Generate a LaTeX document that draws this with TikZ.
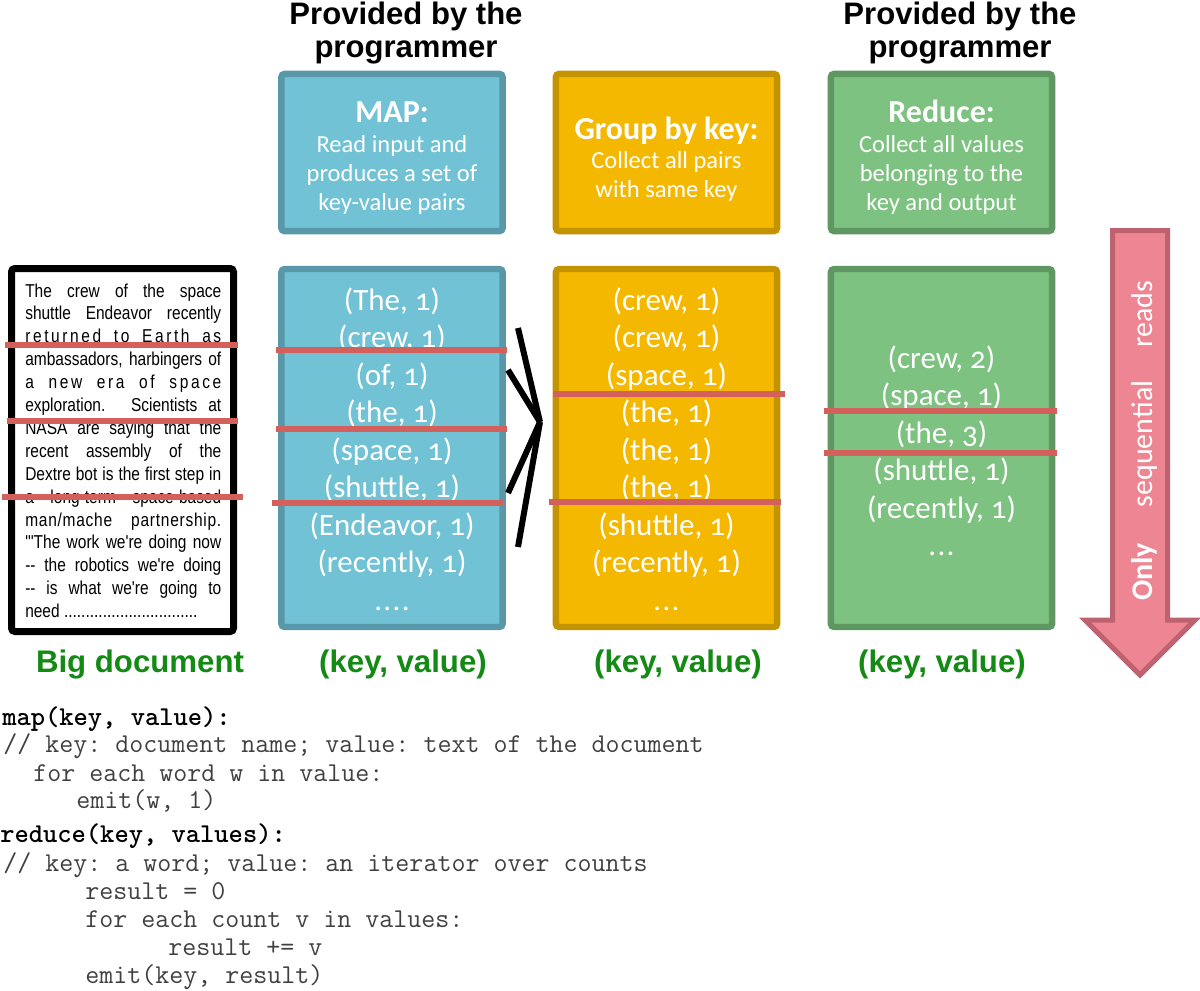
\documentclass[tikz,border=0pt]{standalone}
\usepackage{fontspec}
\newfontfamily\calfont{Carlito}[Numbers=OldStyle]
\newfontfamily\headfont{Liberation Sans}
\newfontfamily\narrowfont{Liberation Sans}[FakeStretch=0.83]
\definecolor{mapfill}{HTML}{72C2D5}
\definecolor{mapedge}{HTML}{5898A8}
\definecolor{grpfill}{HTML}{F4B800}
\definecolor{grpedge}{HTML}{C39300}
\definecolor{redfill}{HTML}{7DC280}
\definecolor{rededge}{HTML}{5E9762}
\definecolor{arrfill}{HTML}{EE8593}
\definecolor{arredge}{HTML}{BF6270}
\definecolor{cutline}{HTML}{D3605A}
\definecolor{lblgreen}{HTML}{138A13}
\definecolor{codegray}{HTML}{404040}
\begin{document}
\begin{tikzpicture}[x=0.75pt,y=-0.75pt,
  box/.style={line width=4.8pt, rounded corners=2.5pt, inner sep=0pt, minimum width=166pt},
  hdrbox/.style={box, minimum height=118pt},
  databox/.style={box, minimum height=268.5pt},
  mapst/.style={fill=mapfill, draw=mapedge},
  grpst/.style={fill=grpfill, draw=grpedge},
  redst/.style={fill=redfill, draw=rededge},
  pair/.style={font=\calfont\fontsize{23.25pt}{28pt}\selectfont, text=white, inner sep=0pt, anchor=base},
  htitle/.style={font=\calfont\bfseries\fontsize{24pt}{28pt}\selectfont, text=white, inner sep=0pt, anchor=base},
  hbody/.style={font=\calfont\fontsize{18.4pt}{22pt}\selectfont, text=white, inner sep=0pt, anchor=base},
  prov/.style={font=\headfont\bfseries\fontsize{23.3pt}{28pt}\selectfont, inner sep=0pt, anchor=base},
  glabel/.style={font=\headfont\bfseries\fontsize{23.4pt}{28pt}\selectfont, text=lblgreen, inner sep=0pt, anchor=base},
  docline/.style={font=\narrowfont\fontsize{14pt}{17pt}\selectfont, inner sep=0pt, anchor=base west},
  codeline/.style={font=\ttfamily\frenchspacing\fontsize{20.4pt}{22pt}\selectfont, text=codegray, inner sep=0pt, anchor=base west},
  codehead/.style={codeline, font=\ttfamily\frenchspacing\bfseries\fontsize{20.4pt}{22pt}\selectfont, text=black},
  cut/.style={draw=cutline, line width=4.5pt},
  blk/.style={draw=black, line width=4.5pt},
  arrtxt/.style={font=\calfont\fontsize{22.5pt}{26pt}\selectfont, text=white, inner sep=0pt, anchor=base, rotate=90}
]
\useasboundingbox (0,0) rectangle (1200,990);

% headings
\node[prov] (p1a) at (406,24) {Provided by the};
\node[prov] (p1b) at (406,57) {programmer};
\node[prov] (p2a) at (960,24) {Provided by the};
\node[prov] (p2b) at (960,57) {programmer};

% header boxes
\node[hdrbox, mapst] (mapH) at (392,152.5) {};
\node[hdrbox, grpst] (grpH) at (666.5,152.5) {};
\node[hdrbox, redst] (redH) at (941.5,152.5) {};

\node[htitle] (mapT) at (392,122) {MAP:};
\node[hbody] (mapB1) at (392,152) {Read input and};
\node[hbody] (mapB2) at (392,181) {produces a set of};
\node[hbody] (mapB3) at (392,210) {key-value pairs};

\node[htitle] (grpT) at (666.5,139) {Group by key:};
\node[hbody] (grpB1) at (666.5,168) {Collect all pairs};
\node[hbody] (grpB2) at (666.5,197) {with same key};

\node[htitle] (redT) at (941.5,122) {Reduce:};
\node[hbody] (redB1) at (941.5,152) {Collect all values};
\node[hbody] (redB2) at (941.5,181) {belonging to the};
\node[hbody] (redB3) at (941.5,210) {key and output};

% data boxes
\node[databox, mapst] (mapD) at (392,448) {};
\node[databox, grpst] (grpD) at (666.5,448) {};
\node[databox, redst] (redD) at (941.5,448) {};

\foreach \t [count=\i] in {{(The, 1)},{(crew, 1)},{(of, 1)},{(the, 1)},{(space, 1)},{(shuttle, 1)},{(Endeavor, 1)},{(recently, 1)}}
  \node[pair, name=m\i] at (392,{310+37.5*(\i-1)}) {\t};
\node[pair] (m9) at (392,610) {.\kern1pt.\kern1pt.\kern1pt.};
\foreach \t [count=\i] in {{(crew, 1)},{(crew, 1)},{(space, 1)},{(the, 1)},{(the, 1)},{(the, 1)},{(shuttle, 1)},{(recently, 1)}}
  \node[pair, name=g\i] at (666.5,{310+37.5*(\i-1)}) {\t};
\node[pair] (g9) at (666.5,610) {.\kern1pt.\kern1pt.};
\foreach \t [count=\i] in {{(crew, 2)},{(space, 1)},{(the, 3)},{(shuttle, 1)},{(recently, 1)}}
  \node[pair, name=r\i] at (941.5,{368+37.5*(\i-1)}) {\t};
\node[pair] (r6) at (941.5,555.5) {.\kern1pt.\kern1pt.};

% document box
\node[draw=black, fill=white, line width=5.25pt, rounded corners=2.5pt, inner sep=0pt,
      minimum width=166.5pt, minimum height=272.25pt] (doc) at (122.5,450) {};
\foreach \t [count=\i] in {
  {The crew of the space},
  {shuttle Endeavor recently},
  {\addfontfeature{LetterSpace=14}returned to Earth as},
  {ambassadors, harbingers of},
  {\addfontfeature{LetterSpace=14}a new era of space},
  {exploration. Scientists at},
  {NASA are saying that the},
  {recent assembly of the},
  {Dextre bot is the first step in},
  {a long-term space-based},
  {\addfontfeature{LetterSpace=4}man/mache partnership.},
  {\char"22\char"27The work we\char"27re doing now},
  {-{}- the robotics we\char"27re doing},
  {-{}- is what we\char"27re going to}}
  \node[docline, name=d\i] at (25,{297+22.9*(\i-1)}) {\makebox[147pt][s]{\t}};
\node[docline] (d15) at (25,617.6) {need \foreach \k in {1,2,...,31}{.}};

% cut lines
\draw[cut] (5,345) -- (238,345);
\draw[cut] (7,421) -- (238,421);
\draw[cut] (2,497) -- (243,497);
\draw[cut] (276,350) -- (507,350);
\draw[cut] (276,429) -- (507,429);
\draw[cut] (272,503) -- (503,503);
\draw[cut] (553,394) -- (785,394);
\draw[cut] (549,502) -- (781,502);
\draw[cut] (824,411) -- (1057,411);
\draw[cut] (824,453) -- (1057,453);

% black connectors
\coordinate (jn) at (540,422);
\coordinate (s1) at (518,328);
\coordinate (s2) at (508,370);
\coordinate (s3) at (508,493);
\coordinate (s4) at (518,547);
\draw[blk] (s1) -- (jn);
\draw[blk] (s4) -- (jn);
\draw[blk] (s2) -- (jn);
\draw[blk] (s3) -- (jn);

% labels
\node[glabel] (lbl0) at (140,672) {Big document};
\node[glabel] (lbl1) at (403,672) {(key, value)};
\node[glabel] (lbl2) at (678,672) {(key, value)};
\node[glabel] (lbl3) at (942,672) {(key, value)};

% arrow
\draw[fill=arrfill, draw=arredge, line width=3.75pt, line join=miter]
  (1112.5,230.5) -- (1167.5,230.5) -- (1167.5,620) -- (1195,620) -- (1140,675)
  -- (1085,620) -- (1112.5,620) -- cycle;
\node[arrtxt, font=\calfont\bfseries\fontsize{22.5pt}{26pt}\selectfont] (aw1) at (1152,572) {Only};
\node[arrtxt] (aw2) at (1152,444) {sequential};
\node[arrtxt] (aw3) at (1152,314) {reads};

% code
\node[codehead] (c1) at (2,725) {map(key, value):};
\node[codeline] (c2) at (3,752) {// key: document name; value: text of the document};
\node[codeline] (c3) at (33,781) {for each word w in value:};
\node[codeline] (c4) at (76,808) {emit(w, 1)};
\node[codehead] (c5) at (0,842) {reduce(key, values):};
\node[codeline] (c6) at (3,871) {// key: a word; value: an iterator over counts};
\node[codeline] (c7) at (85,899) {result = 0};
\node[codeline] (c8) at (85,927) {for each count v in values:};
\node[codeline] (c9) at (168,955) {result += v};
\node[codeline] (c10) at (85,983) {emit(key, result)};
\end{tikzpicture}
\end{document}
